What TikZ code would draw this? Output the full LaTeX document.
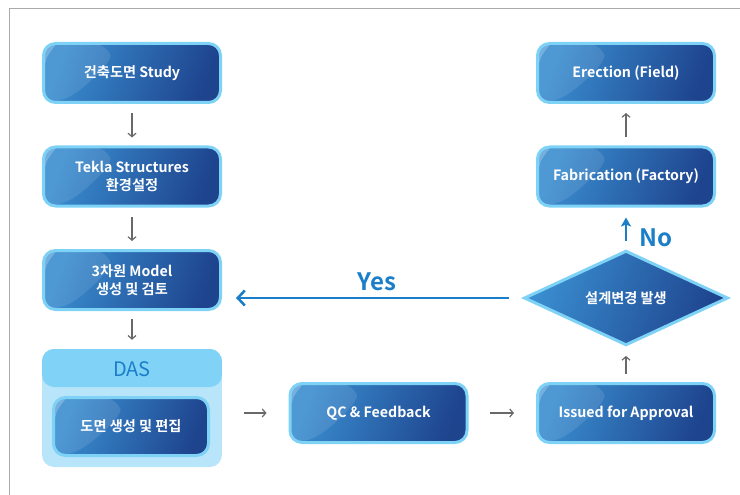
\documentclass[tikz,border=0pt]{standalone}
\usepackage{fontspec}
\setmainfont{Noto Sans CJK KR}[BoldFont={Noto Sans CJK KR Bold}]
\usepackage{tikz}
\usetikzlibrary{shapes.geometric, arrows.meta, positioning, shapes}
\definecolor{boxlight}{RGB}{58,142,208}
\definecolor{boxdark}{RGB}{30,68,142}
\definecolor{boxedge}{RGB}{125,210,246}
\definecolor{dashead}{RGB}{128,211,247}
\definecolor{dasbody}{RGB}{184,229,250}
\definecolor{flowblue}{RGB}{27,126,200}
\definecolor{arrowgray}{RGB}{105,105,105}
\definecolor{framegray}{RGB}{170,170,170}
\tikzstyle{gloss} = [path picture={
    \fill[white, fill opacity=0.10] (path picture bounding box.north west) -- ([xshift=62pt]path picture bounding box.north west) .. controls +(8pt,-18pt) and +(25pt,12pt) .. ([xshift=14pt]path picture bounding box.south west) -- (path picture bounding box.south west) -- cycle;
    \fill[white, fill opacity=0.22] ([yshift=-28pt]path picture bounding box.north west) .. controls +(4pt,18pt) and +(-10pt,2pt) .. ([xshift=26pt]path picture bounding box.north west) -- (path picture bounding box.north west) -- cycle;}]
\tikzstyle{process} = [rectangle, rounded corners=12pt, minimum width=177pt, minimum height=59pt, text centered, align=center, draw=boxedge, line width=3pt, left color=boxlight, right color=boxdark, shading angle=70, text=white, font=\bfseries\fontsize{14.2}{18}\selectfont, gloss]
\tikzstyle{decision} = [diamond, inner sep=0pt, minimum width=204pt, minimum height=82pt, text centered, draw=boxedge, line width=3pt, left color=boxlight, right color=boxdark, shading angle=70, text=white, font=\bfseries\fontsize{14.2}{18}\selectfont]
\tikzstyle{panel} = [rectangle, rounded corners=12pt, minimum width=180pt, minimum height=118pt, inner sep=0pt, path picture={
    \fill[dasbody] (path picture bounding box.south west) rectangle (path picture bounding box.north east);
    \fill[dashead] (path picture bounding box.north west) rectangle ([yshift=-38pt]path picture bounding box.north east);}]
\tikzstyle{line} = [draw=arrowgray, line width=1.2pt, -{Straight Barb[length=3.5pt,width=8pt]}]
\tikzstyle{answer} = [draw=flowblue, line width=2.6pt]
\tikzstyle{label} = [text=flowblue, font=\bfseries\fontsize{24}{28}\selectfont]

\begin{document}
\begin{tikzpicture}[x=1pt, y=-1pt, node distance=103.5pt]
        \useasboundingbox (0,0) rectangle (740,495);
        \draw[framegray, line width=1pt] (740,9) -- (9,9) -- (9,495);

               	% left column
		\node(b1) [process] at (132,73) {건축도면 Study};
		\node(b2) [process, below of=b1] {Tekla Structures\\환경설정};
		\node(b3) [process, below of=b2] {3차원 Model\\생성 및 검토};
		\node(das) [panel] at (132,408) {};
		\node(dastitle) [text=flowblue, font=\fontsize{20}{24}\selectfont] at (132,369) {DAS};
		\node(b4) [process, minimum width=155pt, minimum height=58pt] at (131,426.5) {도면 생성 및 편집};

		% bottom row and right column
		\node(issued) [process] at (626,413) {Issued for Approval};
		\node(qc) [process, left of=issued, xshift=-144pt] {QC \& Feedback};
		\node(d1) [decision] at (626,298) {설계변경 발생};
		\node(fab) [process, below of=b1, xshift=494pt] {Fabrication (Factory)};
		\node(erect) [process, right of=b1, xshift=390.5pt] {Erection (Field)};

		 % Draw edges
		 \path [line, shorten <=9pt, shorten >=8pt] (b1) -- (b2);
		 \path [line, shorten <=9pt, shorten >=8pt] (b2) -- (b3);
		 \path [line, shorten <=8pt, shorten >=9pt] (b3) -- (das);
		 \path [line, shorten <=22pt, shorten >=22pt] (das.east |- qc.west) -- (qc.west);
		 \path [line, shorten <=21pt, shorten >=22pt] (qc) -- (issued);
		 \path [line, shorten <=8pt, shorten >=9pt] (issued) -- (d1);
		 \path [line, shorten <=8pt, shorten >=9pt] (fab) -- (erect);
		 \path [answer, -{Stealth[length=9pt,width=10pt,inset=2pt]}, shorten <=8pt, shorten >=10pt] (d1) -- (fab);
		 \path [answer, -{Straight Barb[length=7pt,width=15pt]}, shorten <=14pt, shorten >=14pt] (d1.west) -- (b3.east |- d1.west);
		 \node(no) [label, anchor=west] at (636,238) {No};
		 \node(yes) [label] at (377,282) {Yes};

         \end{tikzpicture}
\end{document}
